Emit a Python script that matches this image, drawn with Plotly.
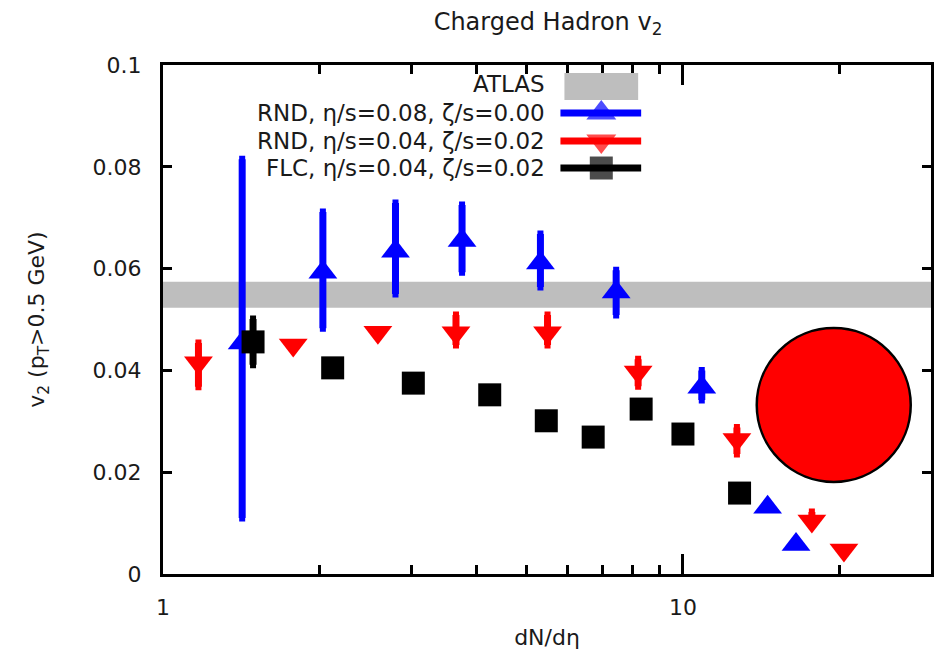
import plotly.graph_objects as go

# ---------------- data ----------------
# RND, eta/s=0.08, zeta/s=0.00  (blue, up triangles)
BLUE_X = [1.42, 2.03, 2.80, 3.76, 5.32, 7.44, 10.87, 14.55, 16.5]
BLUE_Y = [0.0454, 0.0593, 0.0634, 0.0655, 0.0611, 0.0554, 0.0367, 0.0131, 0.0058]
BLUE_HI = [0.0815, 0.0711, 0.0729, 0.0725, 0.0668, 0.0597, 0.0400, 0.0131, 0.0058]
BLUE_LO = [0.0110, 0.0483, 0.0550, 0.0593, 0.0564, 0.0509, 0.0342, 0.0131, 0.0058]

# RND, eta/s=0.04, zeta/s=0.02  (red, down triangles)
RED_X = [1.17, 1.78, 2.59, 3.66, 5.49, 8.2, 12.7, 17.7, 20.4]
RED_Y = [0.0415, 0.0450, 0.0475, 0.0474, 0.0474, 0.0397, 0.0264, 0.0104, 0.0047]
RED_HI = [0.0454, 0.0450, 0.0475, 0.0509, 0.0509, 0.0422, 0.0288, 0.0122, 0.0047]
RED_LO = [0.0368, 0.0450, 0.0475, 0.0450, 0.0450, 0.0369, 0.0236, 0.0104, 0.0047]

# FLC, eta/s=0.04, zeta/s=0.02  (black squares)
BLK_X = [1.49, 2.12, 3.03, 4.25, 5.46, 6.72, 8.31, 10.0, 12.85]
BLK_Y = [0.0456, 0.0405, 0.0375, 0.0352, 0.0301, 0.0269, 0.0324, 0.0275, 0.0159]
BLK_HI = [0.0501, 0.0405, 0.0375, 0.0352, 0.0301, 0.0269, 0.0324, 0.0275, 0.0159]
BLK_LO = [0.0411, 0.0405, 0.0375, 0.0352, 0.0301, 0.0269, 0.0324, 0.0275, 0.0159]

# ATLAS band
ATLAS_X = [1, 30]
ATLAS_LOW = 0.0523
ATLAS_HIGH = 0.0574

# big red circle
CIRCLE_X = [19.5]
CIRCLE_Y = [0.0332]

LEGEND_LABELS = ["ATLAS",
                 "RND, η/s=0.08, ζ/s=0.00",
                 "RND, η/s=0.04, ζ/s=0.02",
                 "FLC, η/s=0.04, ζ/s=0.02"]

X_TICKVALS = [1, 10]
X_TICKTEXT = ["1", "10"]
X_MINOR = [2, 3, 4, 5, 6, 7, 8, 9, 20, 30]
Y_TICKVALS = [0, 0.02, 0.04, 0.06, 0.08, 0.1]
Y_TICKTEXT = ["0", "0.02", "0.04", "0.06", "0.08", "0.1"]

# ---------------- figure ----------------
FONT = "DejaVu Sans"
TXT = "#1a1a1a"
BLUE = "#0000ff"
RED = "#ff0000"
GRAY = "#bebebe"

fig = go.Figure()

# ATLAS band
fig.add_trace(go.Scatter(
    x=[ATLAS_X[0], ATLAS_X[1], ATLAS_X[1], ATLAS_X[0], ATLAS_X[0]],
    y=[ATLAS_LOW, ATLAS_LOW, ATLAS_HIGH, ATLAS_HIGH, ATLAS_LOW],
    fill="toself", fillcolor=GRAY, mode="lines", line=dict(width=0, color=GRAY),
    showlegend=False, hoverinfo="skip"))


def err(y, hi, lo):
    return [h - v for v, h in zip(y, hi)], [v - l for v, l in zip(y, lo)]


def add_series(x, y, hi, lo, color, symbol, size):
    plus, minus = err(y, hi, lo)
    fig.add_trace(go.Scatter(
        x=x, y=y, mode="markers",
        marker=dict(symbol=symbol, size=size, color=color, line=dict(width=0)),
        error_y=dict(type="data", array=plus, arrayminus=minus, symmetric=False,
                     color=color, thickness=7, width=3),
        showlegend=False))


add_series(RED_X, RED_Y, RED_HI, RED_LO, RED, "triangle-down", 25)
add_series(BLUE_X, BLUE_Y, BLUE_HI, BLUE_LO, BLUE, "triangle-up", 25)
add_series(BLK_X, BLK_Y, BLK_HI, BLK_LO, "#000000", "square", 23)

# red circle
fig.add_trace(go.Scatter(
    x=CIRCLE_X, y=CIRCLE_Y, mode="markers",
    marker=dict(symbol="circle", size=154, color=RED, line=dict(width=2.5, color="#000000")),
    showlegend=False))

# ---------------- manual legend (symbols right of text) ----------------
row_y = [0.9627, 0.9057, 0.8507, 0.7976]
text_x = 0.4994
sym_x0, sym_xc, sym_x1 = 0.5175, 0.5707, 0.6226

for lab, yy in zip(LEGEND_LABELS, row_y):
    fig.add_annotation(x=text_x, y=yy, xref="paper", yref="paper", text=lab,
                       showarrow=False, xanchor="right", yanchor="middle",
                       font=dict(family=FONT, size=23, color=TXT))

fig.add_shape(type="rect", xref="paper", yref="paper",
              x0=0.5227, x1=0.6187, y0=0.9312, y1=0.9843,
              fillcolor=GRAY, line=dict(width=0))

for (color, symbol, size), yy in zip(
        [(BLUE, "triangle-up", 26), (RED, "triangle-down", 26), ("#000000", "square", 23)],
        row_y[1:]):
    fig.add_trace(go.Scatter(
        x=[sym_x0, sym_xc, sym_x1], y=[yy, yy, yy], xaxis="x2", yaxis="y2",
        mode="lines+markers", line=dict(color=color, width=7),
        marker=dict(symbol=symbol, size=[0, size, 0], color=color, line=dict(width=0)),
        showlegend=False, hoverinfo="skip"))

axis_common = dict(showline=True, linecolor="#000000", linewidth=3, mirror="ticks",
                   ticks="inside", tickcolor="#000000", tickwidth=3,
                   showgrid=False, zeroline=False,
                   tickfont=dict(family=FONT, size=22, color=TXT))

# the page body adds an 8 px offset; figure size and margins compensate for it
fig.update_layout(
    width=937, height=650,
    margin=dict(l=155, r=11, t=57, b=84),
    paper_bgcolor="white", plot_bgcolor="white",
    title=dict(text="Charged Hadron v<sub>2</sub>", x=0.5763, xanchor="center",
               y=0.9785, yanchor="middle",
               font=dict(family=FONT, size=24, color=TXT)),
    xaxis=dict(type="log", range=[0, 1.4771],
               tickmode="array", tickvals=X_TICKVALS, ticktext=X_TICKTEXT, ticklen=20,
               minor=dict(tickmode="array", tickvals=X_MINOR, ticks="inside", ticklen=9,
                          tickwidth=3, tickcolor="#000000", showgrid=False),
               ticklabelstandoff=12,
               title=dict(text="dN/dη", standoff=11,
                          font=dict(family=FONT, size=22, color=TXT)),
               **axis_common),
    yaxis=dict(range=[0, 0.1], tickmode="array", tickvals=Y_TICKVALS, ticktext=Y_TICKTEXT,
               ticklen=9, ticklabelstandoff=14,
               title=dict(text="v<sub>2</sub> (p<sub>T</sub>>0.5 GeV)", standoff=42,
                          font=dict(family=FONT, size=22, color=TXT)),
               **axis_common),
    xaxis2=dict(overlaying="x", range=[0, 1], visible=False, domain=[0, 1]),
    yaxis2=dict(overlaying="y", range=[0, 1], visible=False, domain=[0, 1]),
)

fig.write_html("out.html")
